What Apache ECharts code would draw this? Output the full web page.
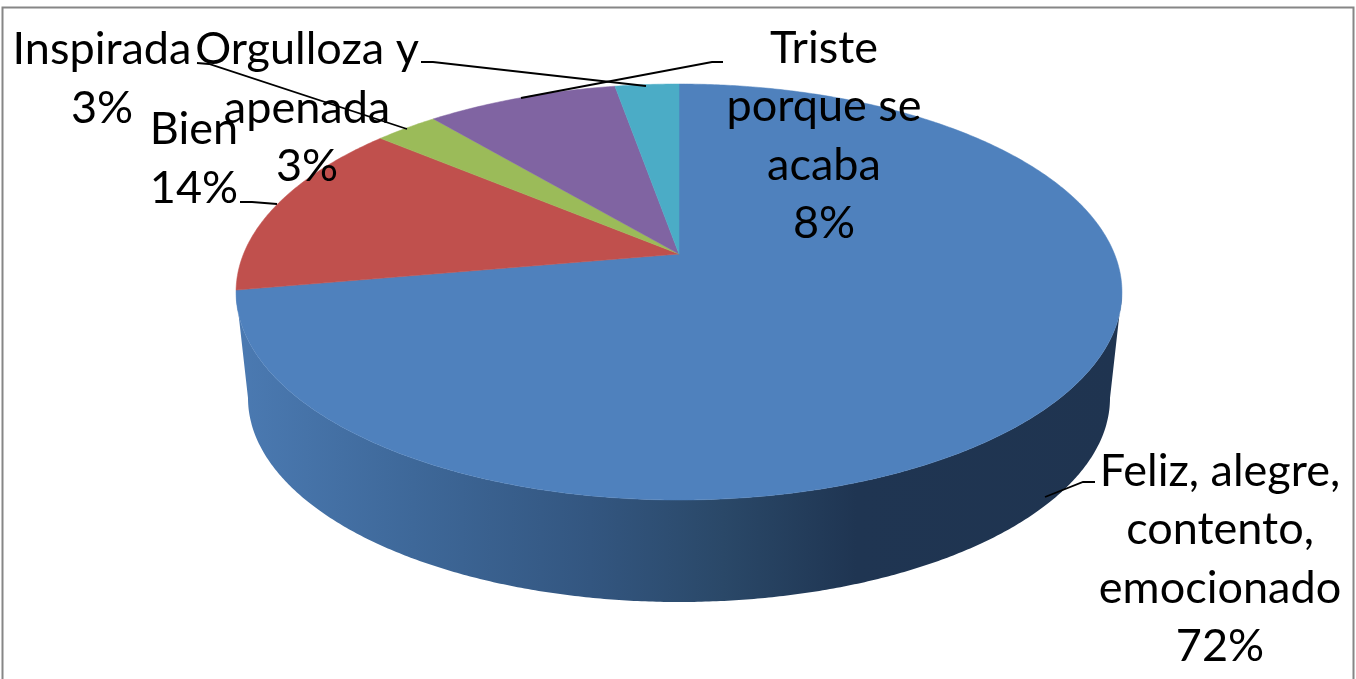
<!DOCTYPE html>
<html>
<head>
<meta charset="utf-8">
<title>Pie</title>
<style>
  html, body { margin: 0; padding: 0; background: #fff; }
  #chart { width: 1356px; height: 679px; }
</style>
<script src="https://cdn.jsdelivr.net/npm/echarts@6/dist/echarts.min.js"></script>
</head>
<body>
<div id="chart"></div>
<script>
const categories = ['Feliz, alegre,\ncontento,\nemocionado', 'Bien', 'Inspirada', 'Triste\nporque se\nacaba', 'Orgulloza y\napenada'];
// slice angles fit counts out of 36, they round to the printed 72 / 14 / 3 / 8 / 3 %
const values = [26, 5, 1, 3, 1];
const colors = ['#4F81BD', '#C0504D', '#9BBB59', '#8064A2', '#4BACC6'];

// label block centres, same order as categories
const labelX = [1220, 194, 102, 824, 307];
const labelY = [559, 159, 79, 136, 108];

// leader lines, same order as categories
const leaderLines = [
  [[1095, 482], [1083, 482], [1045, 497]],
  [[240, 202], [252, 202], [277, 204]],
  [[197, 63], [209, 64], [407, 129]],
  [[723, 62], [712, 62], [521, 98]],
  [[421, 62], [433, 62], [646, 86]]
];

// perspective of the top face, unit circle -> screen
const cx = 679, cy = 254;
const persp = -0.1827, ky = 154.65, kx = 435.5;
// bottom rim of the wall
const rimY = 398, rimRx = 431, rimRy = 204;
const total = values.reduce((a, b) => a + b, 0);

function topPoint(deg) {
  const a = deg * Math.PI / 180;
  const u = Math.sin(a), v = -Math.cos(a);
  const w = 1 + persp * v;
  return [cx + kx * u / w, (cy + ky * v) / w];
}
function rimPoint(deg) {
  const a = deg * Math.PI / 180;
  return [cx + rimRx * Math.sin(a), rimY - rimRy * Math.cos(a)];
}

// start / end angle of each slice, clockwise from 12 o'clock
const ranges = [];
let acc = 0;
values.forEach((val, idx) => {
  const start = acc / total * 360;
  acc += val;
  ranges[idx] = [start, acc / total * 360];
});

// part of the rim turned to the viewer
const wallFrom = 100.5, wallTo = 259.5;
const wallGradient = {
  type: 'linear', x: 236, y: 0, x2: 1122, y2: 0, global: true,
  colorStops: [
    { offset: 0, color: '#4B7AB2' },
    { offset: 0.2, color: '#3E6899' },
    { offset: 0.4, color: '#335680' },
    { offset: 0.55, color: '#2A4868' },
    { offset: 0.7, color: '#1F3552' },
    { offset: 1, color: '#1F3450' }
  ]
};

function renderWall(params, api) {
  const i = api.value(0);
  const from = Math.max(ranges[i][0], wallFrom);
  const to = Math.min(ranges[i][1], wallTo);
  if (to <= from) return null;
  const pts = [];
  for (let d = from; d <= to; d += 0.5) pts.push(topPoint(d));
  pts.push(topPoint(to));
  for (let d = 270; d >= 90; d -= 0.5) pts.push(rimPoint(d));
  return { type: 'polygon', shape: { points: pts }, style: { fill: wallGradient } };
}

function renderSlice(params, api) {
  const i = api.value(0);
  const r = ranges[i];
  const pts = [[cx, cy]];
  for (let d = r[0]; d < r[1]; d += 0.5) pts.push(topPoint(d));
  pts.push(topPoint(r[1]));
  return {
    type: 'polygon',
    shape: { points: pts },
    style: { fill: colors[i], stroke: colors[i], lineWidth: 0.5 }
  };
}

function renderLeader(params, api) {
  const i = api.value(0);
  return {
    type: 'polyline',
    shape: { points: leaderLines[i] },
    style: { fill: 'none', stroke: '#000', lineWidth: 1.8 }
  };
}

function renderLabel(params, api) {
  const i = api.value(0);
  return {
    type: 'text',
    style: {
      x: labelX[i],
      y: labelY[i],
      text: categories[i] + '\n' + Math.round(values[i] / total * 100) + '%',
      font: '45px Lato',
      fill: '#000',
      lineHeight: 58.6,
      align: 'center',
      verticalAlign: 'middle'
    }
  };
}

const indices = categories.map((c, i) => [i]);
const chart = echarts.init(document.getElementById('chart'), null, { renderer: 'canvas' });
chart.setOption({
  animation: false,
  backgroundColor: '#fff',
  graphic: [{
    type: 'rect',
    shape: { x: 2.5, y: 7.5, width: 1351, height: 700 },
    style: { fill: 'none', stroke: '#868686', lineWidth: 2 },
    silent: true
  }],
  series: [
    { type: 'custom', coordinateSystem: 'none', renderItem: renderWall, data: indices, z: 1, silent: true },
    { type: 'custom', coordinateSystem: 'none', renderItem: renderSlice, data: indices, z: 2, silent: true },
    { type: 'custom', coordinateSystem: 'none', renderItem: renderLabel, data: indices, z: 3, silent: true },
    { type: 'custom', coordinateSystem: 'none', renderItem: renderLeader, data: indices, z: 4, silent: true }
  ]
});
</script>
</body>
</html>
